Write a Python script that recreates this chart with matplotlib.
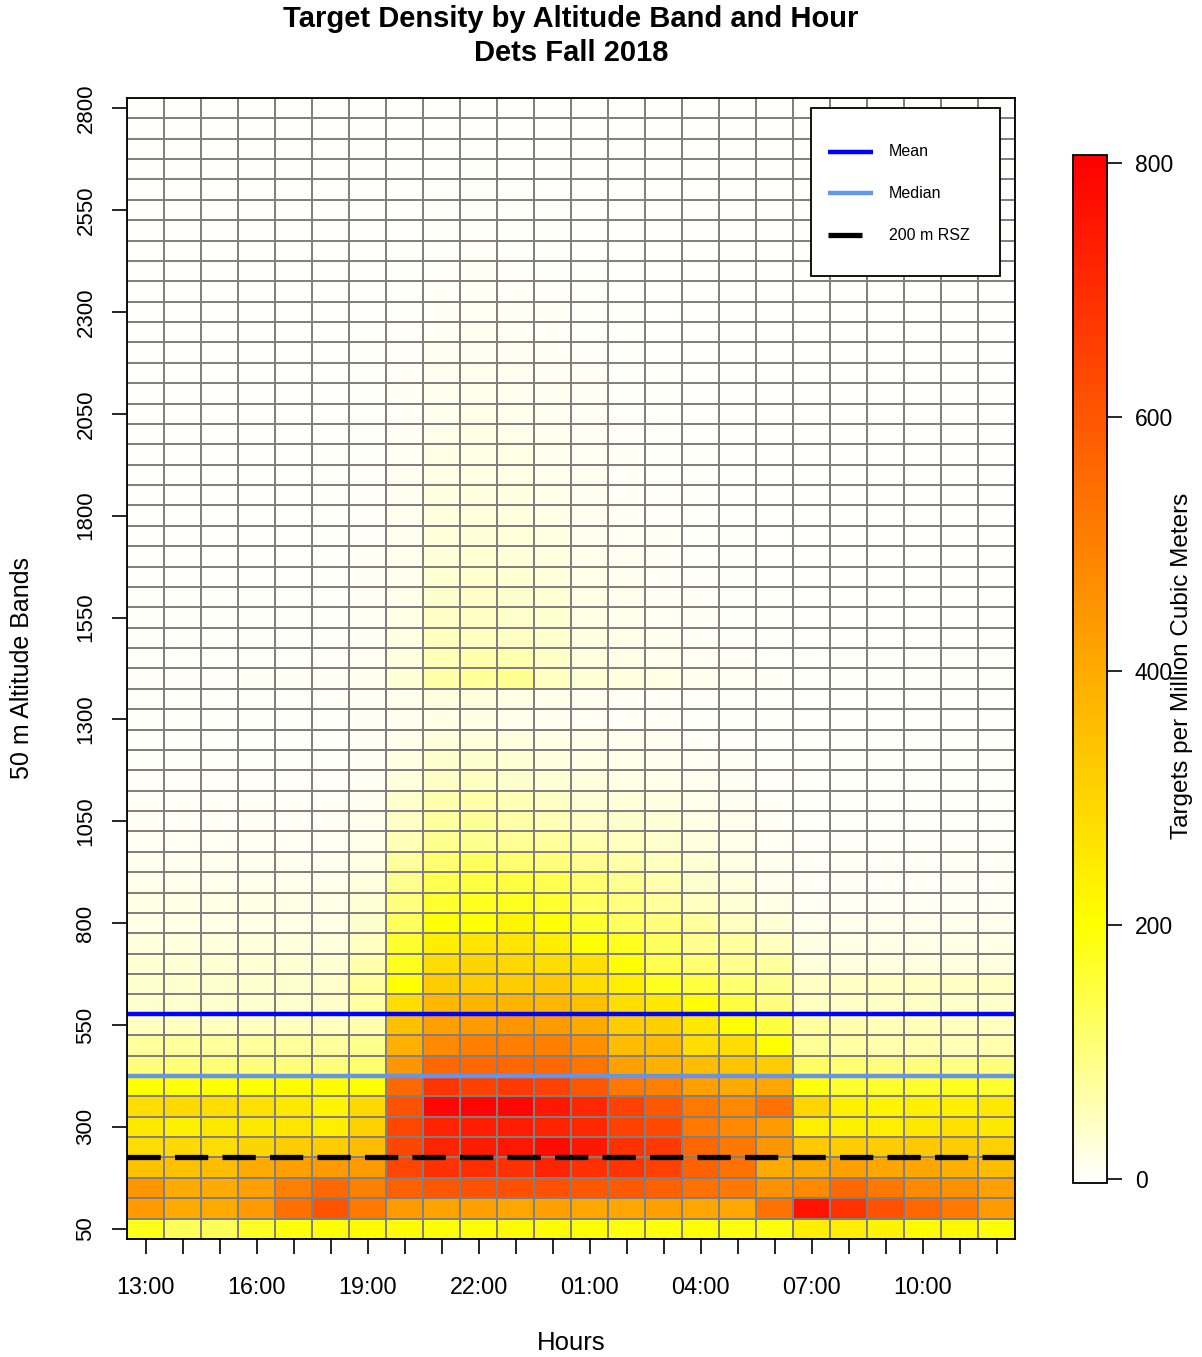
import numpy as np
import matplotlib
matplotlib.use('Agg')
import matplotlib.pyplot as plt
from matplotlib.colors import LinearSegmentedColormap
from matplotlib.lines import Line2D
from matplotlib.patches import Rectangle

plt.rcParams['font.family'] = ['Liberation Sans', 'DejaVu Sans']

# hours of the night, 13:00 through 12:00
hour_labels = ['13:00', '14:00', '15:00', '16:00', '17:00', '18:00', '19:00', '20:00',
               '21:00', '22:00', '23:00', '00:00', '01:00', '02:00', '03:00', '04:00',
               '05:00', '06:00', '07:00', '08:00', '09:00', '10:00', '11:00', '12:00']
altitudes = np.arange(50, 2801, 50)
y_ticks = [50, 300, 550, 800, 1050, 1300, 1550, 1800, 2050, 2300, 2550, 2800]
cbar_ticks = [0, 200, 400, 600, 800]

# targets per million cubic meters, one row per 50 m band (50 m first)
density_rows = [
    [180, 130, 130, 170, 190, 200, 210, 205, 200, 200, 210, 210, 200, 190, 190, 200, 190, 190, 240, 240, 225, 210, 215, 200],
    [440, 400, 400, 440, 540, 610, 520, 440, 420, 424, 412, 424, 412, 412, 424, 412, 412, 536, 760, 690, 612, 560, 520, 440],
    [450, 400, 400, 424, 500, 560, 500, 574, 600, 612, 618, 612, 600, 590, 574, 536, 520, 460, 480, 560, 520, 480, 460, 424],
    [348, 348, 360, 400, 424, 440, 440, 640, 690, 700, 690, 720, 690, 680, 650, 574, 536, 400, 400, 424, 410, 410, 386, 360],
    [280, 290, 280, 300, 320, 320, 360, 640, 720, 740, 750, 780, 750, 690, 670, 560, 520, 450, 330, 320, 320, 330, 320, 310],
    [254, 235, 254, 254, 261, 240, 311, 640, 725, 739, 739, 725, 713, 650, 631, 520, 480, 440, 240, 235, 240, 254, 273, 254],
    [280, 292, 280, 273, 254, 224, 292, 612, 790, 795, 790, 750, 713, 650, 600, 520, 480, 536, 299, 235, 224, 235, 235, 254],
    [200, 190, 200, 200, 205, 205, 200, 560, 680, 650, 668, 650, 600, 520, 500, 424, 400, 412, 187, 162, 162, 162, 175, 162],
    [100, 105, 105, 100, 100, 100, 115, 450, 560, 560, 560, 560, 530, 424, 386, 360, 340, 320, 120, 110, 100, 100, 95, 100],
    [75, 75, 75, 75, 75, 75, 87, 386, 480, 500, 500, 500, 460, 360, 360, 280, 280, 200, 80, 70, 62, 62, 56, 62],
    [49, 49, 49, 49, 49, 49, 62, 348, 424, 440, 449, 440, 400, 320, 311, 254, 200, 150, 75, 62, 55, 55, 49, 49],
    [37, 37, 37, 37, 37, 40, 70, 280, 372, 378, 378, 372, 348, 280, 254, 200, 150, 100, 49, 43, 43, 43, 40, 40],
    [37, 37, 37, 37, 37, 40, 75, 200, 320, 320, 320, 329, 280, 240, 175, 150, 112, 87, 45, 45, 45, 45, 45, 45],
    [31, 31, 31, 31, 31, 31, 62, 175, 280, 299, 292, 280, 273, 200, 137, 112, 87, 75, 28, 25, 25, 25, 25, 25],
    [25, 25, 25, 25, 25, 25, 49, 162, 240, 261, 261, 240, 200, 175, 125, 87, 75, 49, 20, 18, 18, 18, 18, 18],
    [18, 18, 18, 18, 18, 18, 37, 125, 200, 200, 224, 200, 162, 125, 100, 75, 49, 31, 12, 12, 12, 12, 12, 12],
    [18, 18, 18, 18, 18, 18, 31, 100, 162, 175, 175, 162, 125, 100, 75, 49, 31, 18, 8, 8, 8, 8, 8, 8],
    [14, 14, 14, 14, 14, 14, 25, 87, 137, 150, 150, 137, 112, 87, 62, 37, 25, 12, 6, 6, 6, 6, 6, 6],
    [12, 12, 12, 12, 12, 12, 20, 75, 112, 125, 112, 100, 87, 68, 49, 31, 20, 12, 5, 5, 5, 5, 5, 5],
    [8, 8, 8, 8, 8, 8, 15, 56, 87, 87, 81, 75, 62, 49, 37, 25, 15, 8, 4, 4, 4, 4, 4, 4],
    [6, 6, 6, 6, 6, 6, 12, 43, 75, 80, 68, 56, 43, 37, 30, 20, 12, 6, 3, 3, 3, 3, 3, 3],
    [5, 5, 5, 5, 5, 5, 10, 37, 62, 68, 56, 43, 31, 28, 22, 15, 10, 5, 3, 3, 3, 3, 3, 3],
    [4, 4, 4, 4, 4, 4, 8, 27, 43, 49, 37, 31, 25, 20, 15, 10, 8, 4, 2, 2, 2, 2, 2, 2],
    [3, 3, 3, 3, 3, 3, 6, 20, 37, 37, 31, 25, 20, 15, 12, 8, 6, 3, 2, 2, 2, 2, 2, 2],
    [3, 3, 3, 3, 3, 3, 5, 15, 28, 28, 25, 18, 15, 12, 10, 6, 4, 3, 2, 2, 2, 2, 2, 2],
    [3, 3, 3, 3, 3, 3, 5, 10, 18, 18, 14, 10, 8, 6, 5, 3, 2, 2, 1, 1, 1, 1, 1, 1],
    [3, 3, 3, 3, 3, 4, 6, 12, 25, 25, 20, 14, 10, 8, 6, 4, 3, 2, 1, 1, 1, 1, 1, 1],
    [4, 4, 4, 5, 5, 6, 12, 31, 68, 80, 85, 49, 31, 25, 18, 12, 8, 5, 3, 2, 2, 2, 2, 2],
    [3, 3, 3, 3, 3, 4, 8, 25, 56, 62, 62, 43, 25, 18, 12, 8, 5, 3, 2, 2, 2, 2, 2, 2],
    [2, 2, 2, 2, 2, 3, 8, 20, 49, 49, 43, 37, 22, 15, 10, 6, 4, 2, 1, 1, 1, 1, 1, 1],
    [2, 2, 2, 2, 2, 3, 7, 18, 43, 45, 40, 35, 20, 14, 8, 5, 3, 2, 1, 1, 1, 1, 1, 1],
    [2, 2, 2, 2, 2, 3, 6, 15, 38, 42, 38, 32, 18, 12, 8, 5, 3, 2, 1, 1, 1, 1, 1, 1],
    [1, 1, 1, 1, 1, 2, 5, 13, 34, 38, 34, 28, 16, 10, 6, 4, 2, 1, 1, 1, 1, 1, 1, 1],
    [1, 1, 1, 1, 1, 2, 5, 12, 30, 34, 30, 25, 14, 9, 5, 3, 2, 1, 1, 1, 1, 1, 1, 1],
    [1, 1, 1, 1, 1, 2, 4, 11, 28, 30, 28, 22, 12, 8, 5, 3, 2, 1, 0, 0, 0, 0, 0, 0],
    [1, 1, 1, 1, 1, 2, 4, 10, 25, 28, 25, 18, 11, 7, 4, 2, 1, 1, 0, 0, 0, 0, 0, 0],
    [1, 1, 1, 1, 1, 2, 4, 9, 22, 25, 22, 15, 10, 6, 4, 2, 1, 1, 0, 0, 0, 0, 0, 0],
    [1, 1, 1, 1, 1, 2, 4, 9, 20, 22, 20, 14, 9, 5, 3, 2, 1, 1, 0, 0, 0, 0, 0, 0],
    [1, 1, 1, 1, 1, 2, 3, 8, 18, 20, 18, 12, 8, 5, 3, 2, 1, 0, 0, 0, 0, 0, 0, 0],
    [1, 1, 1, 1, 1, 1, 3, 7, 15, 18, 15, 11, 7, 4, 3, 1, 1, 0, 0, 0, 0, 0, 0, 0],
    [1, 1, 1, 1, 1, 1, 3, 6, 14, 16, 14, 10, 6, 4, 2, 1, 1, 0, 0, 0, 0, 0, 0, 0],
    [0, 0, 1, 1, 1, 1, 2, 6, 12, 14, 12, 9, 5, 3, 2, 1, 0, 0, 0, 0, 0, 0, 0, 0],
    [0, 0, 0, 1, 1, 1, 2, 5, 10, 12, 10, 8, 5, 3, 2, 1, 0, 0, 0, 0, 0, 0, 0, 0],
    [0, 0, 0, 0, 1, 1, 2, 4, 9, 10, 9, 7, 4, 2, 1, 1, 0, 0, 0, 0, 0, 0, 0, 0],
    [0, 0, 0, 0, 0, 1, 2, 4, 8, 9, 8, 6, 3, 2, 1, 0, 0, 0, 0, 0, 0, 0, 0, 0],
    [0, 0, 0, 0, 0, 1, 1, 3, 6, 7, 6, 5, 3, 2, 1, 0, 0, 0, 0, 0, 0, 0, 0, 0],
    [0, 0, 0, 0, 0, 0, 1, 3, 5, 6, 5, 4, 2, 1, 1, 0, 0, 0, 0, 0, 0, 0, 0, 0],
    [0, 0, 0, 0, 0, 0, 1, 2, 4, 5, 4, 3, 2, 1, 0, 0, 0, 0, 0, 0, 0, 0, 0, 0],
    [0, 0, 0, 0, 0, 0, 1, 2, 3, 4, 3, 3, 1, 1, 0, 0, 0, 0, 0, 0, 0, 0, 0, 0],
    [0, 0, 0, 0, 0, 0, 1, 1, 3, 3, 3, 2, 1, 1, 0, 0, 0, 0, 0, 0, 0, 0, 0, 0],
    [0, 0, 0, 0, 0, 0, 0, 1, 2, 2, 2, 2, 1, 0, 0, 0, 0, 0, 0, 0, 0, 0, 0, 0],
    [0, 0, 0, 0, 0, 0, 0, 1, 2, 2, 2, 1, 1, 0, 0, 0, 0, 0, 0, 0, 0, 0, 0, 0],
    [0, 0, 0, 0, 0, 0, 0, 1, 1, 2, 1, 1, 0, 0, 0, 0, 0, 0, 0, 0, 0, 0, 0, 0],
    [0, 0, 0, 0, 0, 0, 0, 1, 1, 1, 1, 1, 0, 0, 0, 0, 0, 0, 0, 0, 0, 0, 0, 0],
    [0, 0, 0, 0, 0, 0, 0, 0, 1, 1, 1, 0, 0, 0, 0, 0, 0, 0, 0, 0, 0, 0, 0, 0],
    [0, 0, 0, 0, 0, 0, 0, 0, 1, 1, 1, 0, 0, 0, 0, 0, 0, 0, 0, 0, 0, 0, 0, 0],
]

# reference lines (m)
mean_alt = 578
median_alt = 425
rsz_alt = 225

fig = plt.figure(figsize=(12.02, 13.57), dpi=100)
ax = fig.add_axes([0.1057, 0.0870, 0.7388, 0.8408])

cmap = LinearSegmentedColormap.from_list(
    'wyr', [(0, '#FFFFFF'), (0.25, '#FFFF00'), (1, '#FF0000')], N=512)
Z = np.array(density_rows)
x_edges = np.arange(len(hour_labels) + 1) - 0.5
y_edges = np.append(altitudes - 25, altitudes[-1] + 25)
mesh = ax.pcolormesh(x_edges, y_edges, Z, cmap=cmap, vmin=-3, vmax=806,
                     edgecolors='#808080', linewidth=1.2)

mean_style = dict(color='#0000FF', lw=3.2)
median_style = dict(color='#6495ED', lw=3.2)
rsz_style = dict(color='black', lw=3.8)
ax.axhline(mean_alt, **mean_style)
ax.axhline(median_alt, **median_style)
ax.axhline(rsz_alt, ls=(0, (6.3, 2.7)), **rsz_style)

ax.set_xlim(-0.5, len(hour_labels) - 0.5)
ax.set_ylim(25, 2825)
ax.set_xticks(range(len(hour_labels)))
ax.set_xticklabels([h if i % 3 == 0 else '' for i, h in enumerate(hour_labels)], fontsize=16.8)
ax.tick_params(axis='x', length=11, width=1.2, pad=16)
ax.set_yticks(y_ticks)
ax.set_yticklabels([str(v) for v in y_ticks], rotation=90, va='center', fontsize=16)
ax.tick_params(axis='y', length=11, width=1.2, pad=11)
for s in ax.spines.values():
    s.set_linewidth(1.3)

# legend box, drawn in axes fractions
ax.add_patch(Rectangle((0.7703, 0.8440), 0.2128, 0.1472, transform=ax.transAxes,
                       facecolor='white', edgecolor='black', lw=1.3, zorder=5))
legend_items = [('Mean', mean_style, 0.8401, 0.9527),
                ('Median', median_style, 0.8401, 0.9167),
                ('200 m RSZ', rsz_style, 0.8277, 0.8799)]
for label, style, x_end, y in legend_items:
    ax.add_line(Line2D([0.7894, x_end], [y, y], transform=ax.transAxes,
                       solid_capstyle='butt', zorder=6, **style))
    ax.text(0.8581, y, label, transform=ax.transAxes, fontsize=11.5,
            va='center', ha='left', zorder=6)

cax = fig.add_axes([0.8927, 0.1282, 0.0283, 0.7576])
cb = fig.colorbar(mesh, cax=cax, ticks=cbar_ticks)
cb.ax.tick_params(length=11, width=1.2, labelsize=16.5, pad=9)
cb.outline.set_linewidth(1.3)

fig.text(0.475, 1 - 19 / 1357, 'Target Density by Altitude Band and Hour',
         ha='center', va='center', fontsize=21, fontweight='bold')
fig.text(0.475, 1 - 53 / 1357, 'Dets Fall 2018',
         ha='center', va='center', fontsize=21, fontweight='bold')
fig.text(0.475, 1 - 1343 / 1357, 'Hours', ha='center', va='center', fontsize=18.5)
fig.text(22 / 1202, 1 - 668 / 1357, '50 m Altitude Bands', rotation=90,
         ha='center', va='center', fontsize=18)
fig.text(1182 / 1202, 1 - 666 / 1357, 'Targets per Million Cubic Meters', rotation=90,
         ha='center', va='center', fontsize=17.5)

fig.savefig('out.png', dpi=100)
